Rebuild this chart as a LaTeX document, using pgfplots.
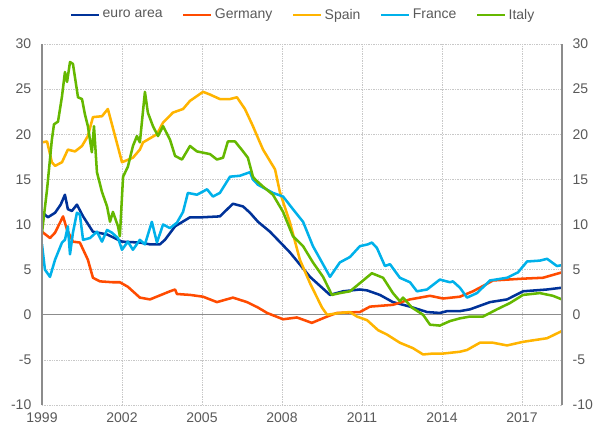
\documentclass[border=0pt]{standalone}
\usepackage{fontspec}
\setmainfont{Liberation Sans}
\usepackage{pgfplots}
\pgfplotsset{compat=1.18}
\definecolor{ea}{HTML}{003299}
\definecolor{de}{HTML}{FF4B00}
\definecolor{es}{HTML}{FFB400}
\definecolor{fr}{HTML}{00B1EA}
\definecolor{it}{HTML}{65B800}
\definecolor{labelgray}{HTML}{595959}
\definecolor{gridgray}{HTML}{C8C8C8}
\definecolor{axisgray}{HTML}{8C8C8C}
\begin{document}
\begin{tikzpicture}
\begin{axis}[
  at={(0,0)}, anchor=south west,
  scale only axis, width=390pt, height=270.75pt,
  xmin=1999, xmax=2018.5, ymin=-10, ymax=30,
  xtick={1999,2002,2005,2008,2011,2014,2017},
  xticklabels={1999,2002,2005,2008,2011,2014,2017},
  ytick={-10,-5,0,5,10,15,20,25,30},
  yticklabels={-10,-5,0,5,10,15,20,25,30},
  grid=major,
  major grid style={draw=gridgray, line width=0.5pt, dash pattern=on 1pt off 0.8pt},
  major tick length=0pt,
  axis line style={draw=none},
  tick label style={font=\fontsize{10.5}{12}\selectfont, text=labelgray},
  yticklabel style={xshift=-4.5pt},
  xticklabel style={yshift=-2pt},
  legend columns=5,
  legend style={draw=none, fill=none, at={(0.502,1)}, anchor=center, yshift=21.75pt,
    font=\fontsize{10.5}{12}\selectfont, text=labelgray,
    /tikz/every even column/.append style={column sep=13pt},
    nodes={inner sep=1.5pt}},
  legend image code/.code={\draw[#1, line width=2.2pt] (0pt,0pt) -- (21pt,0pt);},
  every axis plot/.append style={line width=1.9pt, line join=round},
]
\addplot[forget plot, draw=axisgray, line width=0.8pt] coordinates {(1999,0) (2018.5,0)};
\addplot[ea] coordinates {
(1999.00,11.4) (1999.22,10.8) (1999.49,11.3) (1999.70,12.2) (1999.86,13.3) (1999.97,11.7)
(2000.12,11.5) (2000.31,12.2) (2000.54,10.9) (2000.91,9.2) (2001.44,8.9) (2002.00,8.1)
(2002.67,8.0) (2003.05,7.8) (2003.42,7.8) (2003.61,8.3) (2003.99,9.8) (2004.55,10.8)
(2005.00,10.8) (2005.67,10.9) (2006.16,12.3) (2006.54,12.0) (2006.80,11.3) (2007.10,10.3)
(2007.55,9.2) (2008.30,6.9) (2009.05,4.2) (2009.80,2.2) (2010.29,2.6) (2010.92,2.8)
(2011.19,2.7) (2011.67,2.2) (2012.16,1.4) (2012.80,0.9) (2013.44,0.3) (2013.92,0.2)
(2014.19,0.4) (2014.67,0.4) (2015.05,0.6) (2015.80,1.4) (2016.44,1.7) (2017.04,2.6)
(2017.94,2.8) (2018.50,3.0)};
\addlegendentry{euro area}
\addplot[de] coordinates {
(1999.00,9.2) (1999.30,8.5) (1999.49,9.1) (1999.79,10.9) (1999.94,9.4) (2000.16,8.1)
(2000.42,8.0) (2000.72,6.1) (2000.91,4.1) (2001.17,3.7) (2001.66,3.6) (2001.92,3.6)
(2002.22,3.1) (2002.67,1.9) (2003.05,1.7) (2003.80,2.6) (2003.99,2.8) (2004.06,2.3)
(2004.55,2.2) (2005.04,2.0) (2005.56,1.4) (2006.16,1.9) (2006.69,1.4) (2007.10,0.8)
(2007.44,0.2) (2008.04,-0.5) (2008.56,-0.3) (2009.12,-0.9) (2009.69,-0.2) (2010.06,0.2)
(2010.92,0.3) (2011.30,0.9) (2012.16,1.1) (2012.80,1.7) (2013.55,2.1) (2014.04,1.8)
(2014.67,2.0) (2015.16,2.6) (2015.61,3.3) (2015.91,3.8) (2017.04,4.0) (2017.79,4.1)
(2018.50,4.7)};
\addlegendentry{Germany}
\addplot[es] coordinates {
(1999.00,19.1) (1999.19,19.2) (1999.37,16.9) (1999.49,16.5) (1999.75,16.9) (1999.97,18.3)
(2000.24,18.1) (2000.50,18.7) (2000.72,19.8) (2000.91,21.9) (2001.25,22.0) (2001.47,22.8)
(2001.74,19.8) (2002.00,16.9) (2002.41,17.4) (2002.67,18.3) (2002.79,19.1) (2003.31,20.0)
(2003.54,21.3) (2003.91,22.4) (2004.29,22.8) (2004.55,23.7) (2005.04,24.7) (2005.30,24.4)
(2005.67,23.9) (2006.05,23.9) (2006.31,24.1) (2006.61,22.8) (2006.91,20.9) (2007.17,19.1)
(2007.29,18.3) (2007.74,16.1) (2007.92,13.6) (2008.30,10.2) (2008.67,6.1) (2009.05,3.5)
(2009.50,0.8) (2009.69,0.0) (2010.17,0.2) (2010.55,0.3) (2010.81,-0.2) (2011.19,-0.6)
(2011.60,-1.7) (2011.94,-2.2) (2012.42,-3.1) (2012.91,-3.7) (2013.29,-4.4) (2013.66,-4.3)
(2014.04,-4.3) (2014.67,-4.1) (2014.94,-3.9) (2015.42,-3.1) (2015.91,-3.1) (2016.44,-3.4)
(2017.04,-3.0) (2017.94,-2.6) (2018.50,-1.8)};
\addlegendentry{Spain}
\addplot[fr] coordinates {
(1999.00,7.8) (1999.11,5.0) (1999.30,4.2) (1999.49,6.1) (1999.75,8.0) (1999.86,8.3)
(1999.97,9.8) (2000.05,6.7) (2000.16,9.1) (2000.31,11.3) (2000.42,11.1) (2000.54,8.3)
(2000.80,8.5) (2001.06,9.2) (2001.25,8.1) (2001.44,9.4) (2001.62,9.1) (2001.85,8.5)
(2002.00,7.2) (2002.22,8.1) (2002.41,7.2) (2002.67,8.3) (2002.86,7.8) (2003.12,10.3)
(2003.31,8.0) (2003.54,10.0) (2003.80,9.6) (2004.06,10.2) (2004.29,11.4) (2004.47,13.5)
(2004.81,13.3) (2005.19,13.9) (2005.41,13.1) (2005.67,13.5) (2006.05,15.3) (2006.42,15.4)
(2006.80,15.8) (2006.91,15.0) (2007.10,14.4) (2007.29,14.1) (2007.66,13.5) (2008.04,13.1)
(2008.41,11.7) (2008.79,10.3) (2009.16,7.6) (2009.50,5.8) (2009.80,4.2) (2010.17,5.8)
(2010.55,6.4) (2010.92,7.6) (2011.22,7.8) (2011.37,8.0) (2011.56,7.4) (2011.86,5.4)
(2012.05,5.6) (2012.42,4.1) (2012.80,3.6) (2013.06,2.6) (2013.44,2.8) (2013.92,3.9)
(2014.30,3.6) (2014.41,3.7) (2014.67,3.0) (2014.94,1.9) (2015.31,2.4) (2015.80,3.8)
(2016.44,4.1) (2016.85,4.7) (2017.19,5.9) (2017.67,6.0) (2017.94,6.2) (2018.31,5.4)
(2018.50,5.5)};
\addlegendentry{France}
\addplot[it] coordinates {
(1999.00,9.1) (1999.19,13.9) (1999.37,19.4) (1999.45,21.1) (1999.60,21.4) (1999.75,24.2)
(1999.86,26.9) (1999.94,25.8) (2000.05,28.0) (2000.16,27.8) (2000.35,24.1) (2000.50,23.9)
(2000.61,22.2) (2000.72,20.9) (2000.87,18.0) (2000.95,20.9) (2001.06,15.8) (2001.25,13.6)
(2001.44,12.0) (2001.55,10.3) (2001.66,11.4) (2001.85,9.8) (2001.92,8.7) (2002.04,15.3)
(2002.22,16.4) (2002.41,18.7) (2002.56,19.8) (2002.67,19.1) (2002.86,24.7) (2002.97,22.4)
(2003.16,20.9) (2003.35,19.8) (2003.54,20.9) (2003.80,19.4) (2003.99,17.6) (2004.25,17.2)
(2004.55,18.7) (2004.81,18.1) (2005.30,17.8) (2005.56,17.2) (2005.79,17.4) (2005.97,19.2)
(2006.24,19.2) (2006.54,18.1) (2006.72,17.4) (2006.91,15.3) (2006.99,15.0) (2007.29,14.2)
(2007.66,13.3) (2008.04,11.4) (2008.41,8.7) (2008.79,7.6) (2009.16,5.8) (2009.54,4.2)
(2009.87,2.2) (2010.17,2.4) (2010.55,2.6) (2010.92,3.5) (2011.37,4.6) (2011.79,4.1)
(2012.16,2.4) (2012.42,1.5) (2012.54,1.9) (2012.87,0.8) (2013.29,0.0) (2013.55,-1.1)
(2013.92,-1.2) (2014.30,-0.7) (2014.67,-0.4) (2015.05,-0.2) (2015.54,-0.2) (2016.06,0.6)
(2016.55,1.3) (2017.04,2.2) (2017.67,2.4) (2018.16,2.1) (2018.50,1.7)};
\addlegendentry{Italy}
\end{axis}
\begin{axis}[
  at={(0,0)}, anchor=south west,
  scale only axis, width=390pt, height=270.75pt,
  xmin=1999, xmax=2018.5, ymin=-10, ymax=30,
  xtick=\empty,
  ytick={-10,-5,0,5,10,15,20,25,30},
  yticklabels={-10,-5,0,5,10,15,20,25,30},
  yticklabel pos=right,
  major tick length=0pt,
  axis line style={draw=none},
  tick label style={font=\fontsize{10.5}{12}\selectfont, text=labelgray},
  yticklabel style={xshift=4.5pt},
]
\end{axis}
\draw[axisgray, line width=0.8pt] (0,0) -- (0,270.75pt);
\draw[axisgray, line width=0.8pt] (390pt,0) -- (390pt,270.75pt);
\pgfresetboundingbox
\useasboundingbox (-31.5pt,-18.75pt) rectangle (413.25pt,303.75pt);
\end{tikzpicture}
\end{document}
